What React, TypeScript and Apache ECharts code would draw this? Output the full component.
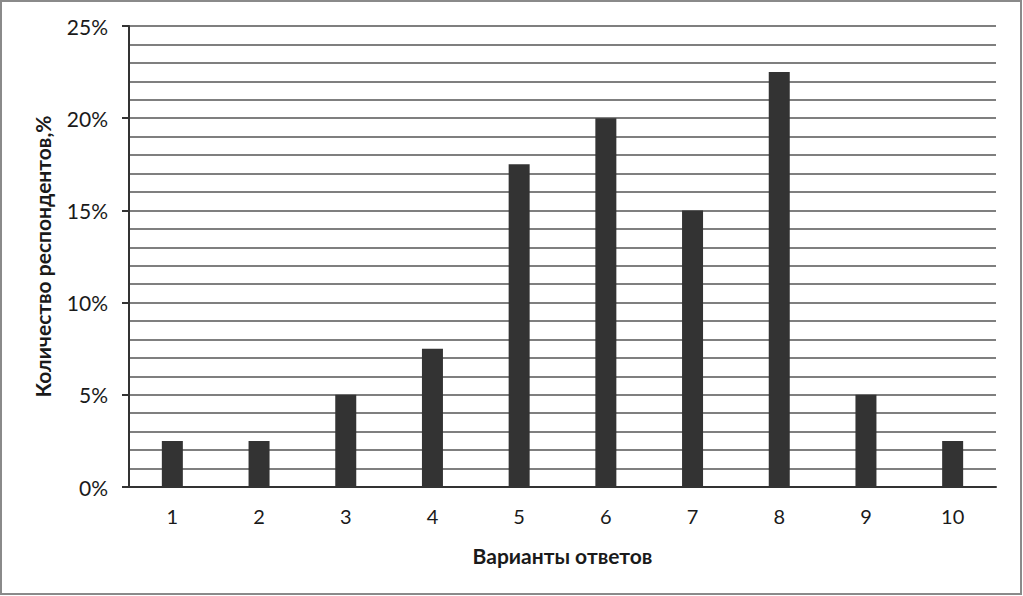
import React, { useEffect, useRef } from "react";
import * as echarts from "echarts";

const categories = ["1", "2", "3", "4", "5", "6", "7", "8", "9", "10"];
const values = [2.5, 2.5, 5, 7.5, 17.5, 20, 15, 22.5, 5, 2.5];
const yTitle = "Количество респондентов,%";
const xTitle = "Варианты ответов";

export default function App() {
  const ref = useRef<HTMLDivElement>(null);
  useEffect(() => {
    const chart = echarts.init(ref.current!, null, { renderer: "svg" });
    const font = "Lato, 'Open Sans', sans-serif";
    chart.setOption({
      animation: false,
      backgroundColor: "#ffffff",
      graphic: [
        {
          type: "rect",
          shape: { x: 1, y: 1, width: 1020, height: 593 },
          style: { fill: "none", stroke: "#8a8a8a", lineWidth: 2 },
          silent: true,
        },
      ],
      grid: { left: 129, right: 27, top: 26, bottom: 109 },
      xAxis: {
        type: "category",
        data: categories,
        name: xTitle,
        nameLocation: "middle",
        nameGap: 58,
        nameTextStyle: { fontFamily: font, fontSize: 21, fontWeight: "bold", color: "#1a1a1a" },
        axisLine: { lineStyle: { color: "#333", width: 2 } },
        axisTick: { show: false },
        axisLabel: { fontFamily: font, fontSize: 20, color: "#1a1a1a", margin: 19 },
      },
      yAxis: {
        type: "value",
        min: 0,
        max: 25,
        interval: 5,
        name: yTitle,
        nameLocation: "middle",
        nameGap: 76,
        nameTextStyle: { fontFamily: font, fontSize: 21, fontWeight: "bold", color: "#1a1a1a" },
        axisLine: { show: true, lineStyle: { color: "#333", width: 2 } },
        axisTick: { show: true, length: 7, lineStyle: { color: "#333", width: 2 } },
        axisLabel: {
          fontFamily: font,
          fontSize: 21,
          color: "#1a1a1a",
          margin: 21,
          formatter: (v: number) => v + "%",
        },
        splitLine: { show: true, lineStyle: { color: "#555", width: 1.5 } },
        minorTick: { show: false, splitNumber: 5 },
        minorSplitLine: { show: true, lineStyle: { color: "#555", width: 1.5 } },
      },
      series: [
        {
          type: "bar",
          data: values,
          barWidth: 21,
          itemStyle: { color: "#333333" },
        },
      ],
    });
    return () => chart.dispose();
  }, []);
  return (
    <div
      ref={ref}
      style={{ position: "absolute", left: 0, top: 0, width: 1023, height: 596 }}
    />
  );
}
